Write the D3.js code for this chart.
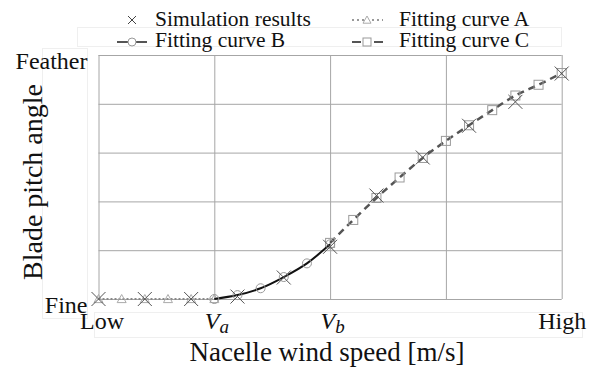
<!DOCTYPE html>
<html>
<head>
<meta charset="utf-8">
<script src="https://cdn.jsdelivr.net/npm/d3@7"></script>
<style>
  html, body { margin: 0; padding: 0; background: #fff; }
  svg { display: block; }
</style>
</head>
<body>
<svg id="chart" width="594" height="367"></svg>
<script>
// ---- data (x in grid units: Low=0, Va=1, Vb=2, High=4; y: Fine=0, Feather=5) ----
const simX = [0, 0.4, 0.8, 1.2, 1.6, 2.0, 2.4, 2.8, 3.2, 3.6, 4.0];
const simY = [0, 0, 0, 0.05, 0.44, 1.07, 2.12, 2.90, 3.55, 4.04, 4.62];

const curveAX = [0, 0.2, 0.4, 0.6, 0.8, 1.0];
const curveAY = [0, 0, 0, 0, 0, 0];

const curveBX = [1.0, 1.2, 1.4, 1.6, 1.8, 2.0];
const curveBY = [0, 0.08, 0.22, 0.45, 0.73, 1.12];

const curveCX = [2.0, 2.2, 2.4, 2.6, 2.8, 3.0, 3.2, 3.4, 3.6, 3.8, 4.0];
const curveCY = [1.15, 1.62, 2.07, 2.49, 2.89, 3.24, 3.56, 3.87, 4.17, 4.39, 4.63];

const xTickValues = [0, 1, 2, 4];
const xTickLabels = ["Low", "V|a", "V|b", "High"];
const yTickValues = [0, 5];
const yTickLabels = ["Fine", "Feather"];
const legendLabels = ["Simulation results", "Fitting curve A", "Fitting curve B", "Fitting curve C"];
const xTitle = "Nacelle wind speed [m/s]";
const yTitle = "Blade pitch angle";

const FONT = "Liberation Serif";

// ---- layout ----
const svg = d3.select("#chart");
const x = d3.scaleLinear().domain([0, 4]).range([98.5, 561.7]);
const y = d3.scaleLinear().domain([0, 5]).range([299, 55]);

// faint text-box artifacts
const faint = "#efefef";
svg.append("rect").attr("x", 77.5).attr("y", 27.5).attr("width", 484).attr("height", 19)
  .attr("fill", "none").attr("stroke", faint);
svg.append("rect").attr("x", 42.5).attr("y", 48.5).attr("width", 45).attr("height", 270)
  .attr("fill", "none").attr("stroke", faint);
svg.append("rect").attr("x", 94.5).attr("y", 312.5).attr("width", 488).attr("height", 25)
  .attr("fill", "none").attr("stroke", faint);

// ---- grid ----
const gridColor = "#a6a6a6";
const gx = svg.append("g").attr("transform", `translate(0,${y(0)})`)
  .call(d3.axisBottom(x).tickValues([0, 1, 2, 3, 4]).tickSize(-(y(0) - y(5))).tickFormat(""));
gx.select(".domain").remove();
gx.selectAll(".tick line").attr("stroke", gridColor).attr("stroke-width", 1);

const gy = svg.append("g").attr("transform", `translate(${x(0)},0)`)
  .call(d3.axisLeft(y).tickValues([0, 1, 2, 3, 4, 5]).tickSize(-(x(4) - x(0))).tickFormat(""));
gy.select(".domain").remove();
gy.selectAll(".tick line").attr("stroke", gridColor).attr("stroke-width", 1);

// ---- tick labels (axes) ----
const yAxis = svg.append("g").attr("transform", `translate(${x(0)},0)`)
  .call(d3.axisLeft(y).tickValues(yTickValues).tickSize(0).tickPadding(11)
    .tickFormat((d, i) => yTickLabels[i]));
yAxis.select(".domain").remove();
yAxis.selectAll(".tick text").attr("dy", "13px")
  .style("font-family", FONT).style("font-size", "24px").attr("fill", "#111");

const xAxis = svg.append("g").attr("transform", `translate(0,${y(0)})`)
  .call(d3.axisBottom(x).tickValues(xTickValues).tickSize(0).tickPadding(0)
    .tickFormat(""));
xAxis.select(".domain").remove();
xAxis.selectAll(".tick").each(function (d, i) {
  const lab = xTickLabels[i];
  const t = d3.select(this).select("text")
    .attr("y", 30).attr("dy", 0)
    .style("font-family", FONT).style("font-size", "24px").attr("fill", "#111");
  if (lab.includes("|")) {
    const [main, sub] = lab.split("|");
    t.attr("x", 2);
    t.append("tspan").style("font-style", "italic").text(main);
    t.append("tspan").style("font-style", "italic").style("font-size", "19px").attr("dy", 4).text(sub);
  } else {
    t.text(lab).attr("x", d === 0 ? 3 : 0);
  }
});

// ---- marker helpers ----
function crossPath(s) { return `M${-s},${-s}L${s},${s}M${-s},${s}L${s},${-s}`; }
function triPath(s) { return `M0,${-s}L${s},${s * 0.8}L${-s},${s * 0.8}Z`; }

const line = d3.line().x(d => x(d[0])).y(d => y(d[1]));
const smooth = d3.line().x(d => x(d[0])).y(d => y(d[1])).curve(d3.curveMonotoneX);

// Curve A
const dataA = curveAX.map((v, i) => [v, curveAY[i]]);
svg.append("path").datum(dataA).attr("d", line)
  .attr("fill", "none").attr("stroke", "#8a8a8a").attr("stroke-width", 2).attr("stroke-dasharray", "2,2");
svg.append("g").selectAll("path").data(dataA).join("path")
  .attr("transform", d => `translate(${x(d[0])},${y(d[1])})`)
  .attr("d", triPath(4.5)).attr("fill", "none").attr("stroke", "#aaa").attr("stroke-width", 1);

// Curve C
const dataC = curveCX.map((v, i) => [v, curveCY[i]]);
svg.append("path").datum(dataC).attr("d", smooth)
  .attr("fill", "none").attr("stroke", "#555").attr("stroke-width", 2.5).attr("stroke-dasharray", "7,5");
svg.append("g").selectAll("rect").data(dataC).join("rect")
  .attr("x", d => x(d[0]) - 4.5).attr("y", d => y(d[1]) - 4.5)
  .attr("width", 9).attr("height", 9)
  .attr("fill", "none").attr("stroke", "#9a9a9a").attr("stroke-width", 1);

// Curve B
const dataB = curveBX.map((v, i) => [v, curveBY[i]]);
svg.append("path").datum(dataB).attr("d", smooth)
  .attr("fill", "none").attr("stroke", "#111").attr("stroke-width", 2);
svg.append("g").selectAll("circle").data(dataB).join("circle")
  .attr("cx", d => x(d[0])).attr("cy", d => y(d[1])).attr("r", 4.5)
  .attr("fill", "none").attr("stroke", "#999").attr("stroke-width", 1);

// Simulation results
const dataS = simX.map((v, i) => [v, simY[i]]);
svg.append("g").selectAll("path").data(dataS).join("path")
  .attr("transform", d => `translate(${x(d[0])},${y(d[1])})`)
  .attr("d", crossPath(7)).attr("fill", "none").attr("stroke", "#555").attr("stroke-width", 1);

// ---- legend ----
const lg = svg.append("g");
function ltext(xp, yp, s) {
  lg.append("text").attr("x", xp).attr("y", yp)
    .style("font-family", FONT).style("font-size", "21.5px").attr("fill", "#111").text(s);
}
// row 1 left: simulation
lg.append("path").attr("transform", "translate(132,20)").attr("d", crossPath(4))
  .attr("stroke", "#444").attr("stroke-width", 1).attr("fill", "none");
ltext(155, 26, legendLabels[0]);
// row 1 right: curve A
lg.append("line").attr("x1", 352).attr("x2", 383).attr("y1", 20).attr("y2", 20)
  .attr("stroke", "#999").attr("stroke-width", 2).attr("stroke-dasharray", "2,3");
lg.append("path").attr("transform", "translate(367,20)").attr("d", triPath(4))
  .attr("fill", "#fff").attr("stroke", "#aaa").attr("stroke-width", 1);
ltext(399, 26, legendLabels[1]);
// row 2 left: curve B
lg.append("line").attr("x1", 117).attr("x2", 147).attr("y1", 42).attr("y2", 42)
  .attr("stroke", "#555").attr("stroke-width", 2);
lg.append("circle").attr("cx", 132).attr("cy", 42).attr("r", 4)
  .attr("fill", "#fff").attr("stroke", "#999").attr("stroke-width", 1);
ltext(155, 47, legendLabels[2]);
// row 2 right: curve C
lg.append("line").attr("x1", 352).attr("x2", 383).attr("y1", 42).attr("y2", 42)
  .attr("stroke", "#555").attr("stroke-width", 2).attr("stroke-dasharray", "9,13");
lg.append("rect").attr("x", 363).attr("y", 38).attr("width", 8).attr("height", 8)
  .attr("fill", "#fff").attr("stroke", "#999").attr("stroke-width", 1);
ltext(399, 47, legendLabels[3]);

// ---- titles ----
svg.append("text").attr("x", 327).attr("y", 361).attr("text-anchor", "middle")
  .style("font-family", FONT).style("font-size", "27px").attr("fill", "#111").text(xTitle);
svg.append("text").attr("transform", "translate(42,182) rotate(-90)")
  .attr("text-anchor", "middle")
  .style("font-family", FONT).style("font-size", "28px").attr("fill", "#111").text(yTitle);
</script>
</body>
</html>
